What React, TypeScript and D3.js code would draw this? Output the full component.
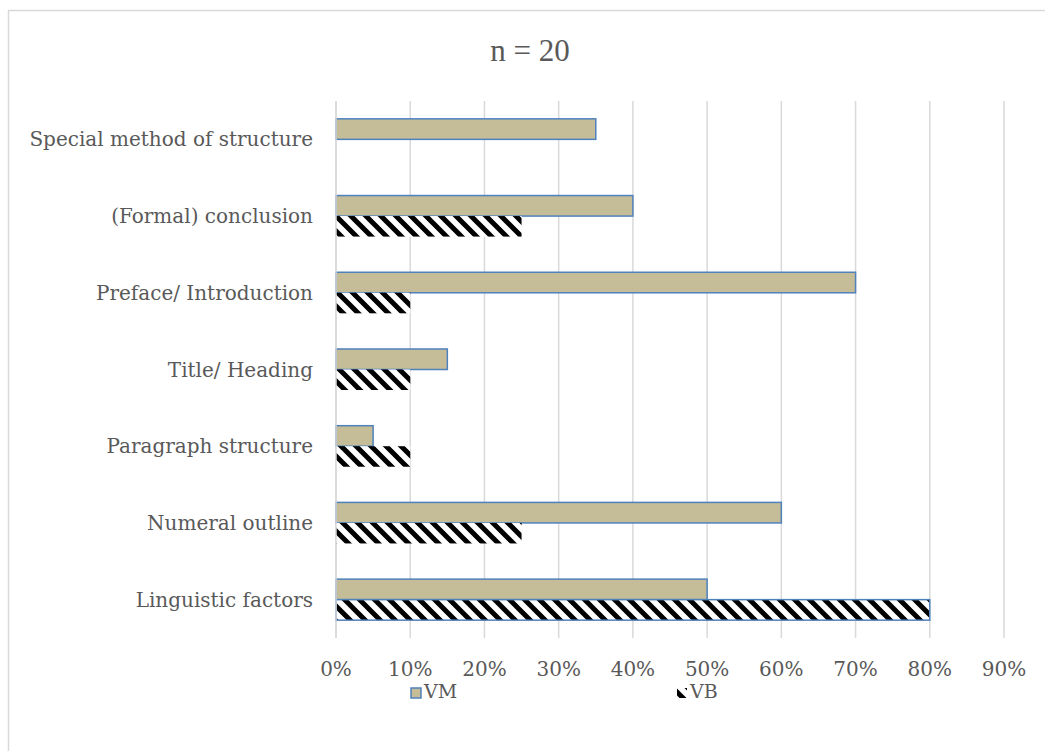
import React from "react";
import * as d3 from "d3";

const categories = [
  "Special method of structure",
  "(Formal) conclusion",
  "Preface/ Introduction",
  "Title/ Heading",
  "Paragraph structure",
  "Numeral outline",
  "Linguistic factors",
];
const seriesNames = ["VM", "VB"];
const vmValues = [0.35, 0.4, 0.7, 0.15, 0.05, 0.6, 0.5];
const vbValues = [0, 0.25, 0.1, 0.1, 0.1, 0.25, 0.8];
const xTicks = [0, 0.1, 0.2, 0.3, 0.4, 0.5, 0.6, 0.7, 0.8, 0.9];
const title = "n = 20";

const W = 1045;
const H = 751;
const FONT = "'Liberation Serif', 'Times New Roman', serif";
const FONT2 = "'DejaVu Serif', serif";
const TEXT = "#595959";
const VM_FILL = "#c4bd97";
const BLUE = "#4f81bd";

export default function App() {
  const x = d3.scaleLinear().domain([0, 0.9]).range([336, 1004]);
  const y = d3
    .scaleBand<string>()
    .domain(categories)
    .range([101, 638])
    .paddingInner(0.465)
    .paddingOuter(0.2325);
  const inner = d3.scaleBand<string>().domain(seriesNames).range([0, y.bandwidth()]);
  const rows = categories.map((c, i) => ({ c, vm: vmValues[i], vb: vbValues[i], i }));
  const fmt = d3.format(".0%");

  return (
    <svg
      width={W}
      height={H}
      style={{ position: "absolute", left: 0, top: 0, background: "#fff" }}
      fontFamily={FONT2}
    >
      <defs>
        <pattern id="hatch" patternUnits="userSpaceOnUse" width="15" height="15">
          <rect width="15" height="15" fill="#fff" />
          <path
            d="M-4,-4 L19,19 M-4,11 L4,19 M11,-4 L19,4"
            stroke="#000"
            strokeWidth="5"
          />
        </pattern>
      </defs>
      <rect x={8.5} y={10.5} width={1100} height={800} fill="#fff" stroke="#d9d9d9" strokeWidth={1.5} />
      <text x={530} y={61} textAnchor="middle" fontSize={31} fill={TEXT} fontFamily={FONT}>
        {title}
      </text>
      {xTicks.map((t) => (
        <line key={t} x1={x(t)} x2={x(t)} y1={101} y2={638} stroke="#d9d9d9" strokeWidth={1.5} />
      ))}
      {xTicks.map((t) => (
        <text key={"l" + t} x={x(t)} y={676} textAnchor="middle" fontSize={20} fill={TEXT}>
          {fmt(t)}
        </text>
      ))}
      {rows.map((r) => (
        <g key={r.c}>
          <text
            x={313}
            y={(y(r.c) as number) + y.bandwidth() / 2}
            dy="0.35em"
            textAnchor="end"
            fontSize={20}
            fill={TEXT}
          >
            {r.c}
          </text>
          <rect
            x={x(0)}
            y={(y(r.c) as number) + (inner("VM") as number)}
            width={x(r.vm) - x(0)}
            height={inner.bandwidth()}
            fill={VM_FILL}
            stroke={BLUE}
            strokeWidth={1.5}
          />
          {r.vb > 0 && (
            <rect
              x={x(0)}
              y={(y(r.c) as number) + (inner("VB") as number)}
              width={x(r.vb) - x(0)}
              height={inner.bandwidth()}
              fill="url(#hatch)"
              stroke={r.i === rows.length - 1 ? BLUE : "none"}
              strokeWidth={1.5}
            />
          )}
        </g>
      ))}
      <line x1={336} x2={336} y1={101} y2={638} stroke="#d9d9d9" strokeWidth={1.5} />
      {/* legend */}
      <rect x={411} y={688} width={10} height={10} fill={VM_FILL} stroke={BLUE} strokeWidth={1.5} />
      <text x={424} y={698} fontSize={19} fill={TEXT}>
        {seriesNames[0]}
      </text>
      <rect x={677} y={688} width={10} height={10} fill="url(#hatch)" />
      <text x={690} y={698} fontSize={19} fill={TEXT}>
        {seriesNames[1]}
      </text>
    </svg>
  );
}
